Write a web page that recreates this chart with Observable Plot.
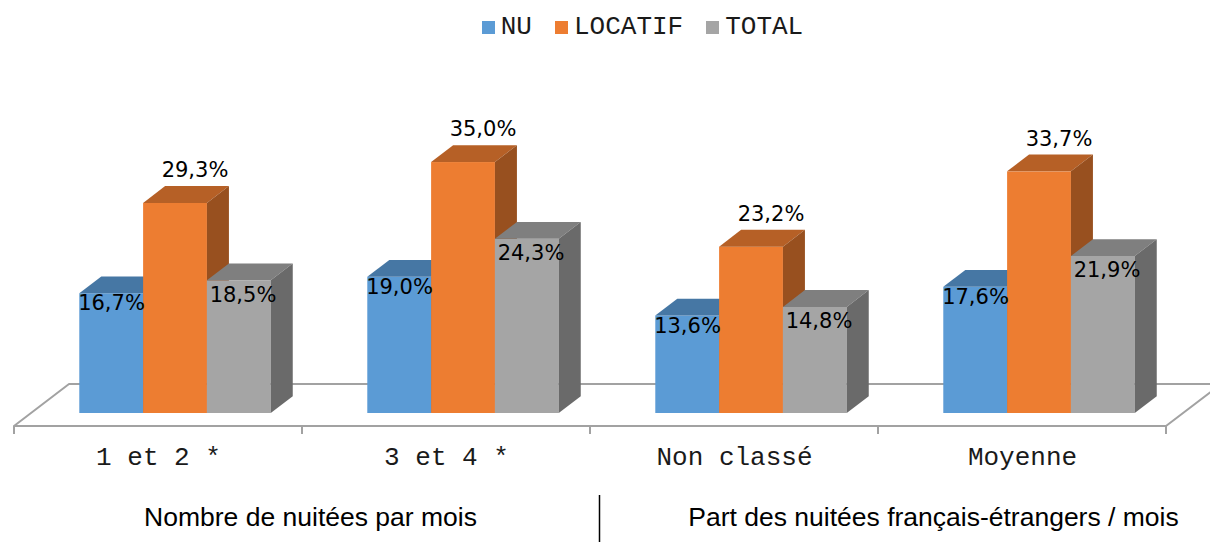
<!DOCTYPE html>
<html>
<head>
<meta charset="utf-8">
<script src="https://cdn.jsdelivr.net/npm/d3@7"></script>
<script src="https://cdn.jsdelivr.net/npm/@observablehq/plot@0.6"></script>
<style>
html, body { margin: 0; padding: 0; background: #fff; }
#legend { height: 46px; padding-top: 4px; padding-left: 75px; display: flex; justify-content: center; align-items: center; }
.lg-swatches { margin: 0 !important; min-height: 0 !important; }
.lg-swatch { margin-right: 23px !important; }
.lg-swatch:last-child { margin-right: 0 !important; }
.lg-swatch > svg { margin-right: 6px !important; }
#chart svg { display: block; }
</style>
</head>
<body>
<div id="legend"></div>
<div id="chart"></div>
<script>
// ---- data ----
const categories = ["1 et 2 *", "3 et 4 *", "Non classé", "Moyenne"];
const series = ["NU", "LOCATIF", "TOTAL"];
const nu = [16.7, 19.0, 13.6, 17.6];
const locatif = [29.3, 35.0, 23.2, 33.7];
const total = [18.5, 24.3, 14.8, 21.9];
const groupTitles = ["Nombre de nuitées par mois", "Part des nuitées français-étrangers / mois"];

// ---- styles ----
const seriesColors = ["#5B9BD5", "#ED7D31", "#A5A5A5"];
const valueFont = "'DejaVu Sans', Verdana, sans-serif";
const monoFont = "'Liberation Mono', 'DejaVu Sans Mono', monospace";
const sansFont = "'Liberation Sans', Arial, sans-serif";

const seriesValues = [nu, locatif, total];
const rows = categories.flatMap((c, i) => series.map((s, j) => ({category: c, series: s, value: seriesValues[j][i]})));
const fmt = v => v.toFixed(1).replace(".", ",") + "%";

// 3D geometry (pixels / fractions)
const FLOOR_DX = 55, FLOOR_DY = -42;
const BAR_D0 = 0.31, BAR_D1 = 0.71;
const GROUP_INSET = 0.1675, BAR_W = 0.2216;
const TOP_SHADE = 0.77, SIDE_SHADE = 0.64;
const shade = (c, k) => { const r = d3.rgb(c); return d3.rgb(r.r * k, r.g * k, r.b * k).formatHex(); };

function render3d(index, scales) {
  const sx = scales.x, sy = scales.y;
  const bw = typeof sx.bandwidth === "function" ? sx.bandwidth() : sx.bandwidth;
  const start = c => sx(c);
  const g = d3.create("svg:g");
  const yBase = sy(0);
  const floorY = yBase - BAR_D0 * FLOOR_DY;
  const x0 = start(categories[0]), x1 = start(categories[categories.length - 1]) + bw;
  const floorPts = [[x0, floorY], [x1, floorY], [x1 + FLOOR_DX, floorY + FLOOR_DY], [x0 + FLOOR_DX, floorY + FLOOR_DY]];
  g.append("polygon").attr("points", floorPts.map(p => p.join(",")).join(" "))
    .attr("fill", "#fff").attr("stroke", "#a2a2a2").attr("stroke-width", 2).attr("stroke-linejoin", "round");
  const tickXs = categories.map(start).concat([x1]);
  for (const tx of tickXs) {
    g.append("line").attr("x1", tx).attr("x2", tx).attr("y1", floorY).attr("y2", floorY + 8)
      .attr("stroke", "#a2a2a2").attr("stroke-width", 2);
  }
  const ddx = (BAR_D1 - BAR_D0) * FLOOR_DX, ddy = (BAR_D1 - BAR_D0) * FLOOR_DY;
  for (const i of index) {
    const r = rows[i];
    const j = series.indexOf(r.series);
    const xL = start(r.category) + bw * (GROUP_INSET + BAR_W * j) + BAR_D0 * FLOOR_DX;
    const xR = xL + bw * BAR_W;
    const yT = sy(r.value), yB = yBase;
    const c = scales.color ? scales.color(r.series) : seriesColors[j];
    g.append("rect").attr("x", xL).attr("y", yT).attr("width", xR - xL).attr("height", yB - yT).attr("fill", c);
    g.append("polygon").attr("points", [[xL, yT], [xR, yT], [xR + ddx, yT + ddy], [xL + ddx, yT + ddy]].map(p => p.join(",")).join(" "))
      .attr("fill", shade(c, TOP_SHADE));
    g.append("polygon").attr("points", [[xR, yT], [xR + ddx, yT + ddy], [xR + ddx, yB + ddy], [xR, yB]].map(p => p.join(",")).join(" "))
      .attr("fill", shade(c, SIDE_SHADE));
  }
  // separator between the two title groups
  const sepX = start(categories[2]) + 9.5;
  g.append("line").attr("x1", sepX).attr("x2", sepX).attr("y1", 445).attr("y2", 492)
    .attr("stroke", "#000").attr("stroke-width", 1.5);
  return g.node();
}

const labelOffsets = [{dx: -47, dy: 10}, {dx: 36.5, dy: -33}, {dx: 84.5, dy: 14}];

const chart = Plot.plot({
  width: 1210,
  height: 492,
  margin: 0,
  x: {type: "band", domain: categories, range: [12, 1167], padding: 0, axis: null},
  y: {domain: [0, 50], range: [363, 4.5], axis: null},
  color: {domain: series, range: seriesColors},
  style: {background: "#fff"},
  marks: [
    Plot.barY(rows, {x: "category", y1: 0, y2: "value", fill: "series", render: render3d}),
    ...series.map((s, j) => Plot.text(rows.filter(d => d.series === s), {
      x: "category", y: "value", text: d => fmt(d.value),
      dx: labelOffsets[j].dx, dy: labelOffsets[j].dy, lineAnchor: "middle",
      fontFamily: valueFont, fontSize: 21, fill: "#000"
    })),
    Plot.text(categories, {x: d => d, text: d => d, frameAnchor: "top", dy: 406.5, lineAnchor: "middle",
      fontFamily: monoFont, fontSize: 26, fill: "#1a1a1a"}),
    Plot.text([groupTitles[0]], {text: d => d, frameAnchor: "top-left", dx: 310, dy: 467.5, lineAnchor: "middle",
      textAnchor: "middle", fontFamily: sansFont, fontSize: 26.5, fill: "#000"}),
    Plot.text([groupTitles[1]], {text: d => d, frameAnchor: "top-left", dx: 933, dy: 467.5, lineAnchor: "middle",
      textAnchor: "middle", fontFamily: sansFont, fontSize: 26.5, fill: "#000"})
  ]
});
document.getElementById("chart").appendChild(chart);

const legend = Plot.legend({
  color: {domain: series, range: seriesColors},
  legend: "swatches",
  swatchSize: 13,
  className: "lg",
  style: {fontFamily: monoFont, fontSize: "26px", color: "#1a1a1a"}
});
document.getElementById("legend").appendChild(legend);
</script>
</body>
</html>
